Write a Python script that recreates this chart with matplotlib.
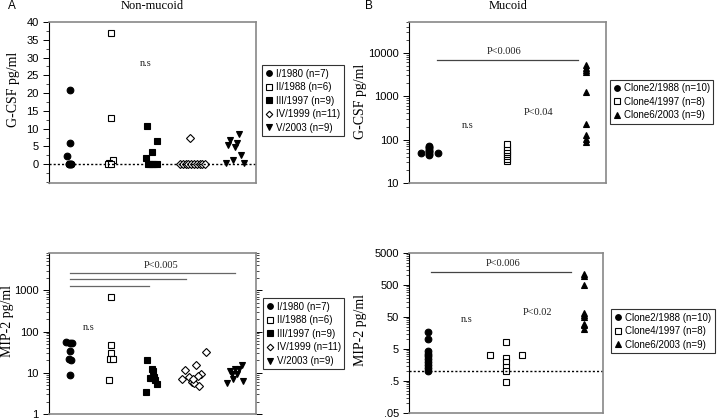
import matplotlib
matplotlib.use('Agg')
import matplotlib.pyplot as plt
import numpy as np
from matplotlib.ticker import FixedLocator, LogLocator, NullFormatter, FixedFormatter, MultipleLocator

SANS = 'Liberation Sans'
SERIF = 'Liberation Serif'

# ---- data ----
# Non-mucoid, G-CSF (pg/ml)
nm_labels = ['I/1980 (n=7)', 'II/1988 (n=6)', 'III/1997 (n=9)', 'IV/1999 (n=11)', 'V/2003 (n=9)']
nm_gcsf = [
    [21, 6, 2.4, 0, 0, 0, 0],
    [37, 13, 1.2, 0.3, 0, 0],
    [10.8, 6.4, 3.3, 1.6, 0, 0, 0, 0, 0],
    [7.5, 0, 0, 0, 0, 0, 0, 0, 0, 0, 0],
    [8.5, 6.9, 5.4, 5.9, 4.9, 2.5, 1.2, 0.2, 0.2],
]
nm_gcsf_jit = [
    [0, 0, -0.06, -0.02, 0.04, -0.02, 0.04],
    [0, 0, 0.04, -0.04, -0.08, 0],
    [-0.12, 0.12, -0.02, -0.16, -0.11, -0.06, -0.01, 0.04, 0.11],
    [-0.1, -0.33, -0.26, -0.2, -0.13, -0.06, 0.0, 0.07, 0.14, 0.2, 0.27],
    [0.1, -0.13, -0.18, 0.03, -0.01, 0.14, -0.06, -0.22, 0.21],
]
# Non-mucoid, MIP-2 (pg/ml)
nm_mip2 = [
    [56, 54, 54, 34, 22, 20, 9],
    [700, 46, 30, 22, 21, 6.5],
    [20.7, 12.6, 10.8, 7.5, 7.5, 6.6, 5.3, 3.4, 8],
    [31.5, 15.7, 11.4, 9.5, 7.2, 7.9, 8.2, 6.0, 5.5, 4.8, 7.0],
    [5.8, 10.8, 7.2, 9.5, 9.5, 12.6, 15, 6.2, 12],
]
nm_mip2_jit = [
    [-0.08, 0.0, 0.05, 0, -0.02, 0.04, 0],
    [0, 0, 0, -0.03, 0.04, -0.06],
    [-0.125, -0.02, 0.02, -0.06, 0.0, 0.06, 0.12, -0.16, 0.03],
    [0.285, 0.04, -0.21, 0.17, -0.29, -0.12, 0.09, -0.05, 0.01, 0.12, -0.02],
    [-0.21, -0.13, -0.05, -0.09, 0.03, 0.1, 0.155, 0.19, -0.01],
]

# Mucoid
m_labels = ['Clone2/1988 (n=10)', 'Clone4/1997 (n=8)', 'Clone6/2003 (n=9)']
m_gcsf = [
    [43, 47, 51, 55, 59, 63, 67, 71, 50, 50],
    [32, 36, 41, 46, 52, 59, 68, 78],
    [5100, 4500, 4000, 3600, 1250, 224, 125, 105, 88],
]
m_gcsf_jit = [
    [0, 0, 0, 0, 0, 0, 0, 0, -0.1, 0.12],
    [0] * 8,
    [0] * 9,
]
m_mip2 = [
    [16.7, 10.3, 4.3, 3.6, 3.0, 2.5, 2.0, 1.6, 1.3, 1.05],
    [8.5, 3.2, 3.2, 2.6, 1.9, 1.4, 1.04, 0.47],
    [1100, 950, 500, 66, 56, 50, 31, 28, 21],
]
m_mip2_jit = [
    [0] * 10,
    [0, -0.21, 0.21, 0, 0, 0, 0, 0],
    [0] * 9,
]

nm_styles = [('o', 'black', 4.8), ('s', 'white', 4.5), ('s', 'black', 4.4),
             ('D', 'white', 3.9), ('v', 'black', 5.0)]
m_styles = [('o', 'black', 4.8), ('s', 'white', 4.5), ('^', 'black', 5.0)]


def frame(ax):
    for side in ['top', 'right', 'bottom']:
        ax.spines[side].set_color('#888888')
        ax.spines[side].set_linewidth(1.2)
    ax.spines['left'].set_color('black')
    ax.spines['left'].set_linewidth(0.8)
    ax.set_xticks([])
    ax.tick_params(axis='y', which='major', direction='out', length=4.3, width=0.7, labelsize=8, pad=3)
    ax.tick_params(axis='y', which='minor', direction='out', length=2.2, width=0.5)
    for t in ax.get_yticklabels():
        t.set_family(SANS)


def draw_groups(ax, values, jitter, styles):
    handles = []
    for i, (vals, jit, (m, fc, ms)) in enumerate(zip(values, jitter, styles)):
        x = np.array(jit) + i + 1
        h, = ax.plot(x, vals, ls='none', marker=m, mfc=fc, mec='black', mew=0.8, ms=ms)
        handles.append(h)
    return handles


def legend(ax, handles, labels, anchor):
    lg = ax.legend(handles, labels, loc='upper left', bbox_to_anchor=anchor,
                   bbox_transform=ax.figure.transFigure, frameon=True, fancybox=False,
                   prop={'family': SANS, 'size': 7}, handlelength=0.7, handletextpad=0.4,
                   labelspacing=0.37, borderpad=0.35, borderaxespad=0, markerscale=0.85)
    lg.get_frame().set_edgecolor('black')
    lg.get_frame().set_linewidth(0.8)


def note(ax, x, y, s):
    ax.text(x, y, s, ha='center', va='center', family=SERIF, fontsize=7.5, color='#222222')


fig = plt.figure(figsize=(7.2, 4.2), dpi=100)

# --- A top: non-mucoid G-CSF
ax1 = fig.add_axes([0.068, 0.5643, 0.2875, 0.3833])
h = draw_groups(ax1, nm_gcsf, nm_gcsf_jit, nm_styles)
ax1.axhline(0, color='black', ls=(0, (1.5, 1.5)), lw=1)
ax1.set_xlim(0.5, 5.5)
ax1.set_ylim(-5.3, 40)
ax1.yaxis.set_major_locator(FixedLocator(np.arange(0, 41, 5)))
ax1.yaxis.set_minor_locator(MultipleLocator(2.5))
frame(ax1)
ax1.set_ylabel('G-CSF pg/ml', family=SERIF, fontsize=10)
ax1.yaxis.set_label_coords(-0.14, 0.58)
note(ax1, 2.84, 28.3, 'n.s')
legend(ax1, h, nm_labels, (0.364, 0.845))

# --- B top: mucoid G-CSF
ax2 = fig.add_axes([0.568, 0.5643, 0.2736, 0.3833])
h = draw_groups(ax2, m_gcsf, m_gcsf_jit, m_styles)
ax2.set_yscale('log')
ax2.set_xlim(0.75, 3.25)
ax2.set_ylim(10, 51000)
ax2.yaxis.set_major_locator(FixedLocator([10, 100, 1000, 10000]))
ax2.yaxis.set_major_formatter(FixedFormatter(['10', '100', '1000', '10000']))
ax2.yaxis.set_minor_locator(LogLocator(base=10, subs=np.arange(2, 10), numticks=20))
ax2.yaxis.set_minor_formatter(NullFormatter())
frame(ax2)
ax2.set_ylabel('G-CSF pg/ml', family=SERIF, fontsize=10)
ax2.yaxis.set_label_coords(-0.215, 0.51)
ax2.plot([1.105, 2.89], [6900, 6900], color='#444444', lw=0.9)
note(ax2, 1.955, 10900, 'P<0.006')
note(ax2, 2.39, 424, 'P<0.04')
note(ax2, 1.5, 213, 'n.s')
legend(ax2, h, m_labels, (0.847, 0.810))

# --- A bottom: non-mucoid MIP-2
ax3 = fig.add_axes([0.068, 0.0143, 0.2875, 0.3833])
h = draw_groups(ax3, nm_mip2, nm_mip2_jit, nm_styles)
ax3.set_yscale('log')
ax3.set_xlim(0.5, 5.5)
ax3.set_ylim(1, 8000)
ax3.yaxis.set_major_locator(FixedLocator([1, 10, 100, 1000]))
ax3.yaxis.set_major_formatter(FixedFormatter(['1', '10', '100', '1000']))
ax3.yaxis.set_minor_locator(LogLocator(base=10, subs=np.arange(2, 10), numticks=20))
ax3.yaxis.set_minor_formatter(NullFormatter())
frame(ax3)
ax3.tick_params(axis='y', which='both', right=True)
ax3.set_ylabel('MIP-2 pg/ml', family=SERIF, fontsize=10)
ax3.yaxis.set_label_coords(-0.17, 0.58)
for x_end, y_bar in [(5.0, 2560), (3.81, 1840), (2.92, 1290)]:
    ax3.plot([1.0, x_end], [y_bar, y_bar], color='#666666', lw=0.9)
note(ax3, 3.2, 3990, 'P<0.005')
note(ax3, 1.47, 126, 'n.s')
legend(ax3, h, nm_labels, (0.365, 0.290))

# --- B bottom: mucoid MIP-2
ax4 = fig.add_axes([0.568, 0.0167, 0.2694, 0.381])
h = draw_groups(ax4, m_mip2, m_mip2_jit, m_styles)
ax4.set_yscale('log')
ax4.set_xlim(0.75, 3.25)
ax4.set_ylim(0.05, 5000)
ax4.axhline(1.0, color='black', ls=(0, (1.5, 1.5)), lw=1)
ax4.yaxis.set_major_locator(FixedLocator([0.05, 0.5, 5, 50, 500, 5000]))
ax4.yaxis.set_major_formatter(FixedFormatter(['.05', '.5', '5', '50', '500', '5000']))
ax4.yaxis.set_minor_locator(LogLocator(base=10, subs=np.arange(1, 10) * 0.5, numticks=20))
ax4.yaxis.set_minor_formatter(NullFormatter())
frame(ax4)
ax4.set_ylabel('MIP-2 pg/ml', family=SERIF, fontsize=10)
ax4.yaxis.set_label_coords(-0.215, 0.52)
ax4.plot([1.03, 2.84], [1270, 1270], color='#444444', lw=0.9)
note(ax4, 1.97, 2270, 'P<0.006')
note(ax4, 2.41, 68.7, 'P<0.02')
note(ax4, 1.5, 42.6, 'n.s')
legend(ax4, h, m_labels, (0.849, 0.264))

# panel headers
fig.text(8 / 720, 1 - 6 / 420, 'A', family=SANS, fontsize=8.5, ha='left', va='center')
fig.text(365 / 720, 1 - 6 / 420, 'B', family=SANS, fontsize=8.5, ha='left', va='center')
fig.text(152 / 720, 1 - 6 / 420, 'Non-mucoid', family=SERIF, fontsize=9, ha='center', va='center')
fig.text(508 / 720, 1 - 6 / 420, 'Mucoid', family=SERIF, fontsize=9, ha='center', va='center')

fig.savefig('out.png', dpi=100)
